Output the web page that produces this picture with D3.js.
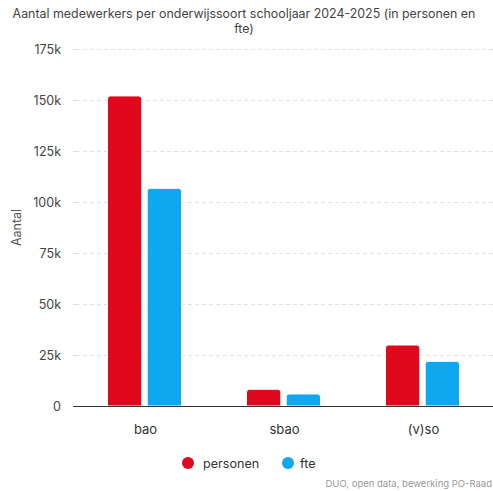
<!DOCTYPE html>
<html><head><meta charset="utf-8">
<script src="https://cdn.jsdelivr.net/npm/d3@7"></script>
<style>body{margin:0;background:#fff;font-family:Inter,"Noto Sans",sans-serif}</style>
</head><body><div id="chart"></div>
<script>
const categories = ["bao", "sbao", "(v)so"];
const seriesNames = ["personen", "fte"];
const personen = [152000, 8200, 29900];
const fte = [106700, 5900, 21900];
const colors = ["#e0081c", "#0ea8f0"];
const yTicks = [0, 25000, 50000, 75000, 100000, 125000, 150000, 175000];
const yTickLabels = ["0", "25k", "50k", "75k", "100k", "125k", "150k", "175k"];

const W = 493, H = 491;
const m = {left: 76, right: 0, top: 49, bottom: 85};
const svg = d3.select("#chart").append("svg").attr("width", W).attr("height", H);
const x = d3.scaleBand().domain(categories).range([m.left, W - m.right]);
const x1 = d3.scaleBand().domain(seriesNames).range([0, 74]).paddingInner(0.135);
const y = d3.scaleLinear().domain([0, 175000]).range([H - m.bottom, m.top]);

// title
const title = svg.append("text").attr("text-anchor", "middle").attr("fill", "#444").style("font-size", "12.4px");
title.append("tspan").attr("x", 244).attr("y", 18).text("Aantal medewerkers per onderwijssoort schooljaar 2024-2025 (in personen en");
title.append("tspan").attr("x", 244).attr("y", 33).text("fte)");

// grid
svg.append("g").selectAll("line").data(yTicks.slice(1)).join("line")
  .attr("x1", m.left).attr("x2", W).attr("y1", d => y(d) + 0.5).attr("y2", d => y(d) + 0.5)
  .attr("stroke", "#e2e2e2").attr("stroke-dasharray", "4,3");
// y tick labels
const yAxis = d3.axisLeft(y).tickValues(yTicks).tickFormat((d, i) => yTickLabels[i]).tickSize(3).tickPadding(12);
const ya = svg.append("g").attr("transform", `translate(${m.left},0)`).call(yAxis);
ya.select(".domain").remove();
ya.selectAll(".tick line").attr("stroke", "#ddd");
ya.selectAll(".tick text").attr("fill", "#444").style("font-size", "12.5px").style("font-family", "Inter,'Noto Sans',sans-serif");

svg.append("text").attr("transform", `translate(21,${(m.top + H - m.bottom) / 2}) rotate(-90)`)
  .attr("text-anchor", "middle").attr("fill", "#555").style("font-size", "12.5px").text("Aantal");

// bars
const data = categories.map((c, i) => ({c, vals: [personen[i], fte[i]]}));
const r = 3;
function barPath(x0, w, yt, yb) {
  return `M${x0},${yb}V${yt + r}Q${x0},${yt} ${x0 + r},${yt}H${x0 + w - r}Q${x0 + w},${yt} ${x0 + w},${yt + r}V${yb}Z`;
}
const groups = svg.append("g").selectAll("g").data(data).join("g")
  .attr("transform", d => `translate(${x(d.c) + (x.bandwidth() - 74) / 2 - 1},0)`);
groups.selectAll("path").data(d => d.vals.map((v, j) => ({v, s: seriesNames[j], j}))).join("path")
  .attr("d", d => barPath(x1(d.s), x1.bandwidth(), y(d.v), y(0)))
  .attr("fill", d => colors[d.j]).attr("stroke", "#fff").attr("stroke-width", 1);

// x axis
const xa = svg.append("g").attr("transform", `translate(0,${y(0)})`).call(d3.axisBottom(x).tickSize(0).tickPadding(19));
xa.select(".domain").attr("stroke", "#333").attr("d", `M${m.left - 3},0.5H${W}`);
xa.selectAll(".tick text").attr("fill", "#333").style("font-size", "13px").style("font-family", "Inter,'Noto Sans',sans-serif");

// legend
const leg = [{n: "personen", cx: 188, tx: 203}, {n: "fte", cx: 288, tx: 300}];
const lg = svg.append("g").selectAll("g").data(leg).join("g");
lg.append("circle").attr("cx", d => d.cx).attr("cy", 463).attr("r", 6).attr("fill", (d, i) => colors[i]);
lg.append("text").attr("x", d => d.tx).attr("y", 467.5).attr("fill", "#333").style("font-size", "12.6px").text(d => d.n);

svg.append("text").attr("x", 492).attr("y", 487).attr("text-anchor", "end").attr("fill", "#999")
  .style("font-size", "9.5px").text("DUO, open data, bewerking PO-Raad");
</script></body></html>
